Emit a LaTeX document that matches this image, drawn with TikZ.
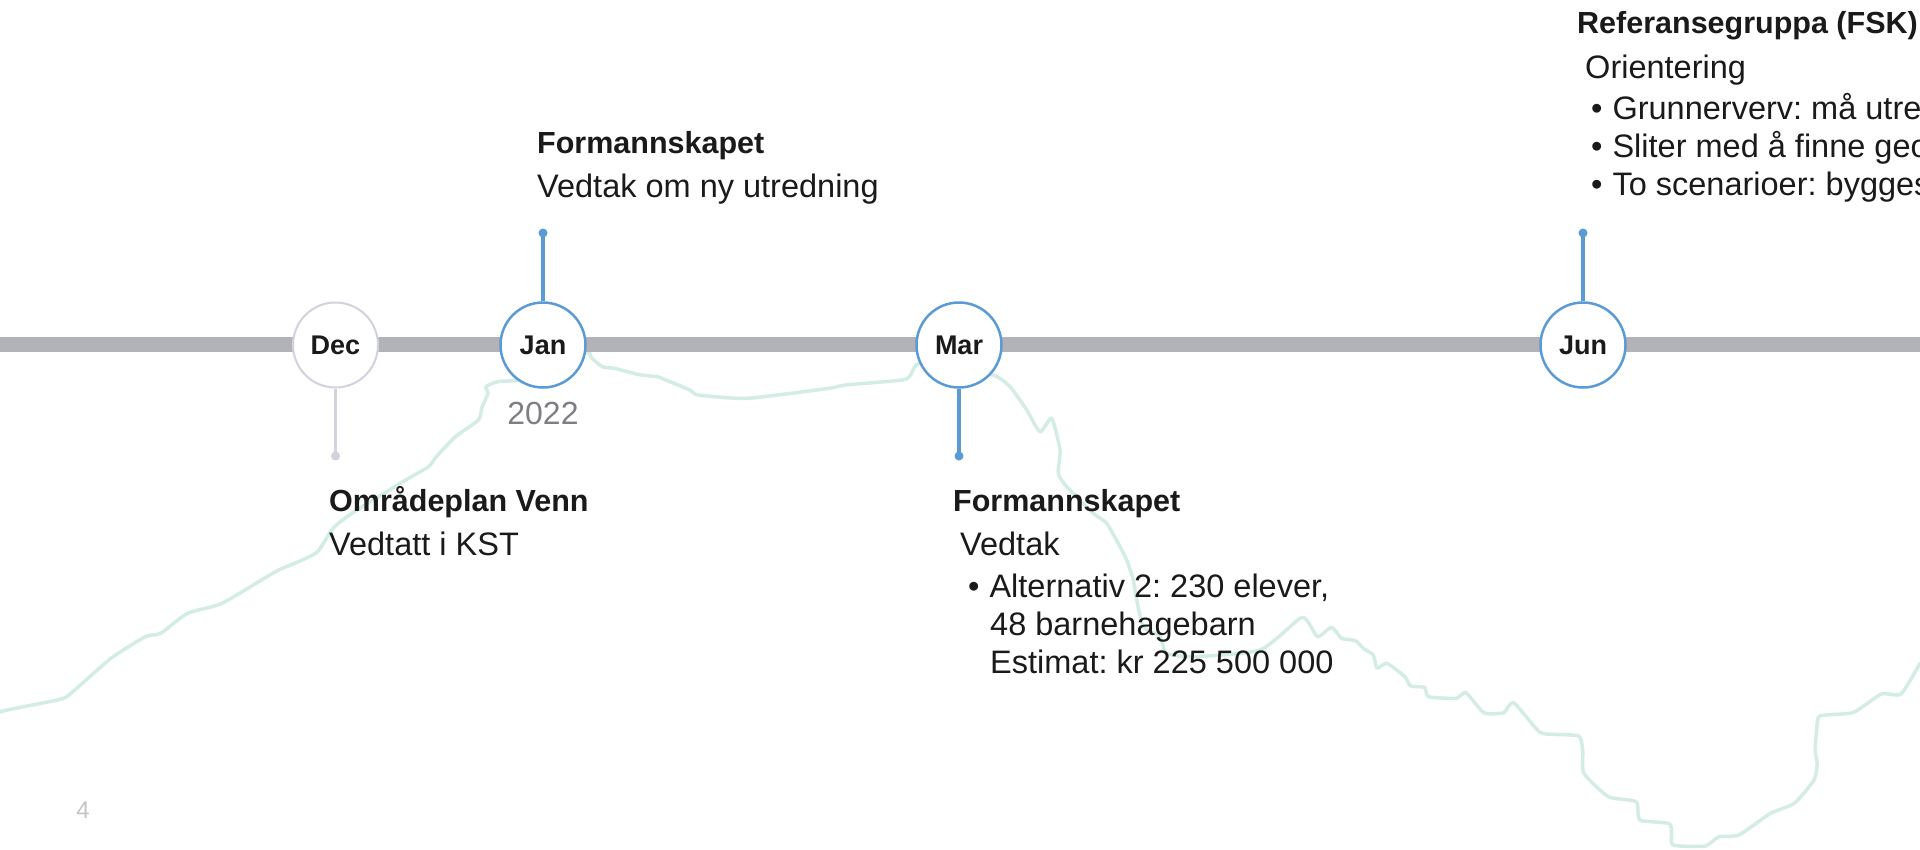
\documentclass[tikz,border=0pt]{standalone}
\usepackage{fontspec}
\setmainfont{Liberation Sans}
\frenchspacing
\definecolor{blueC}{HTML}{5B9BD5}
\definecolor{grayC}{HTML}{D2D2DE}
\definecolor{barC}{HTML}{B2B3B9}
\definecolor{mintC}{HTML}{D3EDE4}
\definecolor{ink}{HTML}{1A1A1A}
\definecolor{yearC}{HTML}{7E7E86}
\definecolor{pgC}{HTML}{C4C4C4}
\tikzset{
  txt/.style={anchor=base west, inner sep=0pt, font=\fontsize{32.5}{38}\selectfont, text=ink},
  ttl/.style={anchor=base west, inner sep=0pt, font=\fontsize{30.5}{36}\selectfont\bfseries, text=ink},
  month/.style={circle, draw=blueC, line width=2.5pt, fill=white, minimum size=85pt, inner sep=0pt,
    font=\fontsize{27}{30}\selectfont\bfseries, text=ink},
  monthgray/.style={month, draw=grayC, line width=2pt},
  stemblue/.style={draw=blueC, line width=3.2pt},
  stemgray/.style={draw=grayC, line width=3pt},
  dotblue/.style={circle, fill=blueC, minimum size=9pt, inner sep=0pt},
  dotgray/.style={circle, fill=grayC, minimum size=9pt, inner sep=0pt},
  barline/.style={draw=barC, line width=15pt},
  mintline/.style={draw=mintC, line width=3.5pt, line join=round, line cap=round},
}
\begin{document}
\begin{tikzpicture}[x=1pt,y=-1pt]
\frenchspacing
\useasboundingbox (0,0) rectangle (1920,849);
\clip (0,0) rectangle (1920,849);
\fill[white] (0,0) rectangle (1920,849);

% background mint contour line
\draw[mintline] plot[smooth, tension=0.35] coordinates {
(0,711.7) (15.3,708.3) (57.4,700) (68.9,695) (111,658.3) (145.4,636.7) (160.7,633.3)
(187.5,613.3) (222,603.3) (275.5,571.7) (298.5,561.7) (317.6,551.7) (333,528.3) (352,513.3)
(405.7,480) (428.6,466.7) (436.3,456.7) (455.4,436.7) (478.4,420) (482.2,406.7) (488,393.3)
(486,386.7) (497.5,381.7) (518.8,380) (550,370) (586,352) (592,358.3) (602.4,366.7)
(614.7,368.3) (620.8,370) (641,375) (657.6,376.7) (665.7,380) (690,390) (698.4,395)
(747.3,398.3) (829,388.3) (845.3,385) (902.4,380) (910.6,375) (918.8,363.3) (955,370)
(993.3,375) (1010,386.7) (1026.7,410) (1040,431.7) (1051.7,418.3) (1060,450) (1058.3,473.3)
(1066.7,486.7) (1093.3,513.3) (1106.7,523.3) (1120,546.7) (1126.7,560) (1133.3,580)
(1136.7,600) (1143.3,626.7) (1160,636.7) (1166.7,653.3) (1193.3,656.7) (1260,650)
(1300,618.3) (1307.9,621.7) (1317.8,636.7) (1331.6,627.3) (1341.5,638.3) (1355.4,640.7)
(1363.3,648.3) (1373.2,655) (1377.1,668.3) (1387,663.3) (1404.8,676.7) (1410.7,686)
(1424.6,687.3) (1428.5,696.7) (1456.2,698.3) (1466,692.7) (1483.9,712.7) (1503.6,712.7)
(1513.5,702.7) (1539.2,731.7) (1553,734.3) (1578.8,736) (1582.7,750) (1583.9,773.3)
(1608.4,796.7) (1636.1,801.7) (1640,820) (1669.7,824) (1671.7,843.3) (1679.6,846)
(1705.3,846) (1719.1,836.7) (1738.9,835) (1770.5,813.3) (1794.3,803.3) (1814,780)
(1817.2,763.3) (1815.2,750) (1818,718.3) (1825.9,715) (1853.6,712.3) (1881.3,694)
(1901,694) (1920,663.3)};

% timeline bar
\coordinate (barL) at (-5,344.5);
\coordinate (barR) at (1925,344.5);
\draw[barline] (barL) -- (barR);

% stems and dots
\node[dotgray] (decdot) at (335.5,456) {};
\node[dotblue] (jandot) at (543,233) {};
\node[dotblue] (mardot) at (959,456) {};
\node[dotblue] (jundot) at (1583,233) {};

% month circles
\node[monthgray] (dec) at (335.5,345) {Dec};
\node[month] (jan) at (543,345) {Jan};
\node[month] (mar) at (959,345) {Mar};
\node[month] (jun) at (1583,345) {Jun};

\draw[stemgray] (dec.south) -- (decdot.center);
\draw[stemblue] (jan.north) -- (jandot.center);
\draw[stemblue] (mar.south) -- (mardot.center);
\draw[stemblue] (jun.north) -- (jundot.center);

% year
\node[anchor=base, inner sep=0pt, font=\fontsize{32}{38}\selectfont, text=yearC] (year) at (543,424) {2022};

% Jan text
\node[ttl] (t1) at (537,153) {Formannskapet};
\node[txt] (t1b) at (537,197) {Vedtak om ny utredning};

% Dec text
\node[ttl] (t2) at (329,511) {Områdeplan Venn};
\node[txt] (t2b) at (329,555) {Vedtatt i KST};

% Mar text
\node[ttl] (t3) at (953,511) {Formannskapet};
\node[txt] (t3b) at (960,555) {Vedtak};
\node[txt] (t3c) at (968,597) {•\hspace{10pt}Alternativ 2: 230 elever,};
\node[txt] (t3d) at (990,635) {48 barnehagebarn};
\node[txt] (t3e) at (990,673) {Estimat: kr 225 500 000};

% Jun text
\node[ttl] (t4) at (1577,33) {Referansegruppa (FSK)};
\node[txt] (t4b) at (1585,78) {Orientering};
\node[txt] (t4c) at (1591,119) {•\hspace{10pt}Grunnerverv: må utre};
\node[txt] (t4d) at (1591,157) {•\hspace{10pt}Sliter med å finne geo};
\node[txt] (t4e) at (1591,195) {•\hspace{10pt}To scenarioer: bygges};

% page number
\node[inner sep=0pt, font=\fontsize{24}{28}\selectfont, text=pgC] (pg) at (83,810) {4};
\end{tikzpicture}
\end{document}
